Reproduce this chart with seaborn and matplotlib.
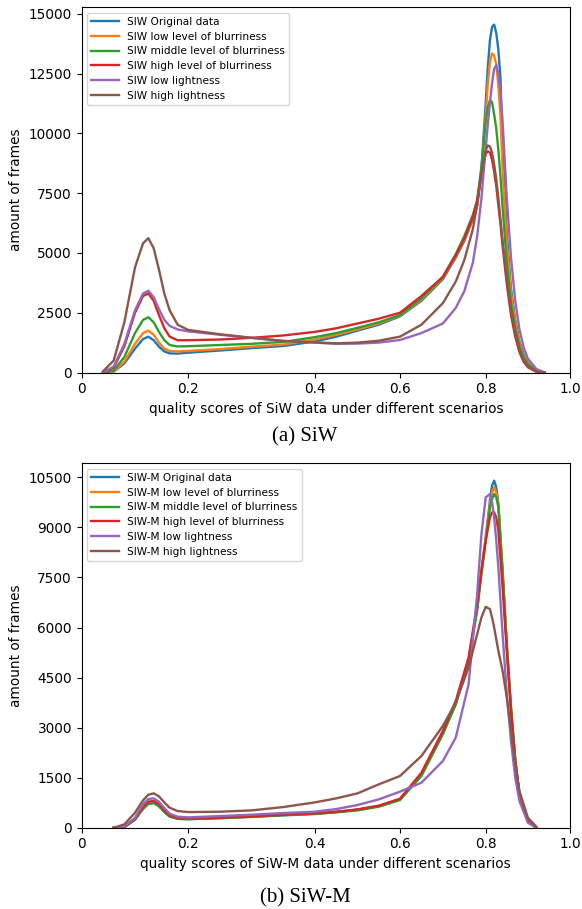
import matplotlib
matplotlib.use("Agg")
import matplotlib.pyplot as plt
import numpy as np
import pandas as pd
import seaborn as sns
from matplotlib.ticker import MultipleLocator

# ---- data ----
siw_scores = [0.04, 0.06, 0.08, 0.10, 0.115, 0.125, 0.135, 0.145, 0.155, 0.165, 0.18, 0.20,
              0.25, 0.30, 0.35, 0.40, 0.45, 0.50, 0.55, 0.60, 0.65, 0.70, 0.73, 0.75, 0.77,
              0.78, 0.79, 0.80, 0.805, 0.81, 0.815, 0.82, 0.825, 0.83, 0.835, 0.84, 0.85,
              0.86, 0.87, 0.88, 0.89, 0.90, 0.92, 0.94]
siw_original = [0, 40, 380, 1000, 1400, 1500, 1350, 1080, 880, 800, 790, 830, 920, 1020, 1110,
                1300, 1500, 1750, 2000, 2350, 3000, 3900, 4800, 5500, 6400, 7000, 8500, 11300,
                12800, 13900, 14450, 14550, 14200, 13500, 12300, 9300, 5800, 3500, 2200, 1300,
                750, 420, 80, 0]
siw_low_blur = [0, 50, 450, 1200, 1650, 1750, 1580, 1250, 1000, 900, 880, 900, 980, 1080, 1170,
                1380, 1580, 1800, 2050, 2380, 3050, 3950, 4850, 5550, 6450, 7000, 8400, 10800,
                12100, 13000, 13350, 13250, 12900, 12000, 10700, 8500, 5400, 3300, 2100, 1250,
                700, 400, 70, 0]
siw_mid_blur = [0, 80, 650, 1650, 2200, 2310, 2100, 1700, 1350, 1150, 1090, 1100, 1150, 1200, 1280,
                1480, 1650, 1870, 2100, 2400, 3100, 4000, 4950, 5700, 6600, 7200, 8600, 10500,
                11100, 11400, 11300, 10800, 10200, 9300, 8200, 6900, 4600, 2900, 1850, 1100,
                620, 350, 60, 0]
siw_high_blur = [0, 200, 1100, 2500, 3200, 3310, 3000, 2400, 1850, 1500, 1350, 1350, 1380, 1450, 1550,
                 1700, 1850, 2050, 2250, 2500, 3200, 4000, 4900, 5600, 6500, 7200, 8300, 9150,
                 9250, 9200, 8900, 8400, 7800, 7000, 6200, 5300, 3700, 2400, 1500, 850,
                 450, 220, 30, 0]
siw_low_light = [0, 250, 1200, 2600, 3300, 3420, 3150, 2650, 2200, 1950, 1800, 1720, 1580, 1450, 1320,
                 1250, 1200, 1210, 1250, 1360, 1650, 2050, 2700, 3400, 4600, 5700, 7300, 9400,
                 10400, 11300, 12100, 12700, 12850, 12500, 11700, 10500, 7300, 4800, 3000, 1800,
                 1050, 580, 150, 0]
siw_high_light = [50, 500, 2100, 4400, 5400, 5620, 5200, 4300, 3300, 2600, 2000, 1780, 1600, 1450, 1320,
                  1260, 1220, 1250, 1330, 1500, 2000, 2900, 3800, 4700, 6000, 7000, 8300, 9300,
                  9500, 9450, 9200, 8700, 8100, 7300, 6400, 5500, 3900, 2600, 1650, 950,
                  520, 260, 40, 0]

siwm_scores = [0.06, 0.08, 0.10, 0.115, 0.125, 0.135, 0.145, 0.155, 0.165, 0.18, 0.20, 0.25,
               0.30, 0.35, 0.40, 0.45, 0.50, 0.55, 0.60, 0.65, 0.70, 0.73, 0.76, 0.78, 0.79,
               0.80, 0.81, 0.815, 0.82, 0.825, 0.83, 0.84, 0.85, 0.86, 0.87, 0.88, 0.90, 0.92]
siwm_original = [0, 20, 250, 580, 720, 750, 650, 480, 340, 270, 260, 290, 330, 380, 420, 470, 540,
                 650, 850, 1600, 2850, 3700, 5000, 6600, 7700, 8700, 9800, 10250, 10400, 10200,
                 9700, 7600, 5400, 3500, 2000, 1000, 200, 0]
siwm_low_blur = [0, 20, 270, 620, 780, 800, 700, 520, 370, 290, 270, 295, 335, 385, 425, 475, 540,
                 650, 850, 1600, 2850, 3700, 5000, 6600, 7700, 8700, 9700, 10050, 10200, 10050,
                 9700, 7700, 5500, 3600, 2050, 1000, 200, 0]
siwm_mid_blur = [0, 15, 240, 560, 710, 740, 640, 470, 335, 265, 255, 285, 325, 370, 410, 460, 520,
                 630, 830, 1550, 2800, 3700, 5000, 6500, 7600, 8600, 9600, 9850, 10000, 9900,
                 9600, 7700, 5500, 3600, 2050, 1000, 200, 0]
siwm_high_blur = [0, 20, 270, 620, 780, 800, 700, 520, 370, 290, 275, 300, 340, 390, 430, 480, 550,
                  660, 870, 1650, 2900, 3800, 5100, 6700, 7700, 8600, 9300, 9450, 9450, 9300,
                  8900, 7200, 5300, 3500, 2000, 1000, 200, 0]
siwm_low_light = [0, 30, 300, 700, 860, 880, 780, 590, 420, 330, 310, 350, 390, 440, 480, 560, 680,
                  850, 1080, 1350, 2000, 2700, 4300, 7000, 8800, 9900, 10000, 9750, 9300, 8600,
                  7800, 5800, 4000, 2600, 1500, 800, 150, 0]
siwm_high_light = [0, 100, 450, 820, 990, 1030, 940, 760, 600, 500, 470, 480, 520, 620, 760, 880, 1030,
                   1300, 1550, 2150, 3050, 3750, 4800, 5800, 6300, 6620, 6550, 6300, 6000, 5650,
                   5300, 4700, 3900, 2900, 1900, 1100, 300, 30]

scenarios = ["Original data", "low level of blurriness", "middle level of blurriness",
             "high level of blurriness", "low lightness", "high lightness"]

# the printed x ticks are not evenly spaced: where each label sits along the axis
tick_values = [0.0, 0.2, 0.4, 0.6, 0.8, 1.0]
tick_fracs = [0.0, 0.2183, 0.4778, 0.6518, 0.8274, 1.0]


def forward(v):
    v = np.asarray(v, dtype=float)
    out = np.interp(v, tick_values, tick_fracs)
    out = np.where(v < 0, v * tick_fracs[1] / 0.2, out)
    out = np.where(v > 1, 1 + (v - 1) * (1 - tick_fracs[4]) / 0.2, out)
    return out


def inverse(f):
    f = np.asarray(f, dtype=float)
    out = np.interp(f, tick_fracs, tick_values)
    out = np.where(f < 0, f * 0.2 / tick_fracs[1], out)
    out = np.where(f > 1, 1 + (f - 1) * 0.2 / (1 - tick_fracs[4]), out)
    return out


def long_frame(scores, series, prefix):
    rows = []
    for name, values in zip(scenarios, series):
        for s, v in zip(scores, values):
            rows.append({"score": s, "frames": v, "scenario": f"{prefix} {name}"})
    return pd.DataFrame(rows)


def draw_panel(ax, frame, xlabel, ystep):
    sns.lineplot(data=frame, x="score", y="frames", hue="scenario", palette="tab10",
                 sort=False, linewidth=1.7, ax=ax)
    ax.set_xscale("function", functions=(forward, inverse))
    ax.set_xlim(0, 1)
    ax.set_xticks(tick_values)
    ax.set_xticklabels(["0", "0.2", "0.4", "0.6", "0.8", "1.0"])
    ax.set_ylim(bottom=0)
    ax.yaxis.set_major_locator(MultipleLocator(ystep))
    ax.set_xlabel(xlabel, fontsize=9.8)
    ax.set_ylabel("amount of frames", fontsize=9.8)
    ax.tick_params(labelsize=9.8)
    handles, labels = ax.get_legend_handles_labels()
    ax.legend(handles, labels, loc="upper left", fontsize=7.6, handlelength=2.6,
              labelspacing=0.45, borderaxespad=0.5)


siw = long_frame(siw_scores, [siw_original, siw_low_blur, siw_mid_blur, siw_high_blur,
                              siw_low_light, siw_high_light], "SIW")
siwm = long_frame(siwm_scores, [siwm_original, siwm_low_blur, siwm_mid_blur, siwm_high_blur,
                                siwm_low_light, siwm_high_light], "SIW-M")

fig = plt.figure(figsize=(5.82, 9.09), dpi=100)
ax_top = fig.add_axes([0.1404, 0.5902, 0.839, 0.4018])
ax_bot = fig.add_axes([0.1404, 0.0894, 0.839, 0.4009])

draw_panel(ax_top, siw, "quality scores of SiW data under different scenarios", 2500)
draw_panel(ax_bot, siwm, "quality scores of SiW-M data under different scenarios", 1500)

fig.text(0.524, 1 - 437 / 909, "(a) SiW", ha="center", va="center",
         fontsize=15, family="Liberation Serif")
fig.text(0.524, 1 - 898 / 909, "(b) SiW-M", ha="center", va="center",
         fontsize=15, family="Liberation Serif")

fig.savefig("out.png", dpi=100)
plt.close(fig)
